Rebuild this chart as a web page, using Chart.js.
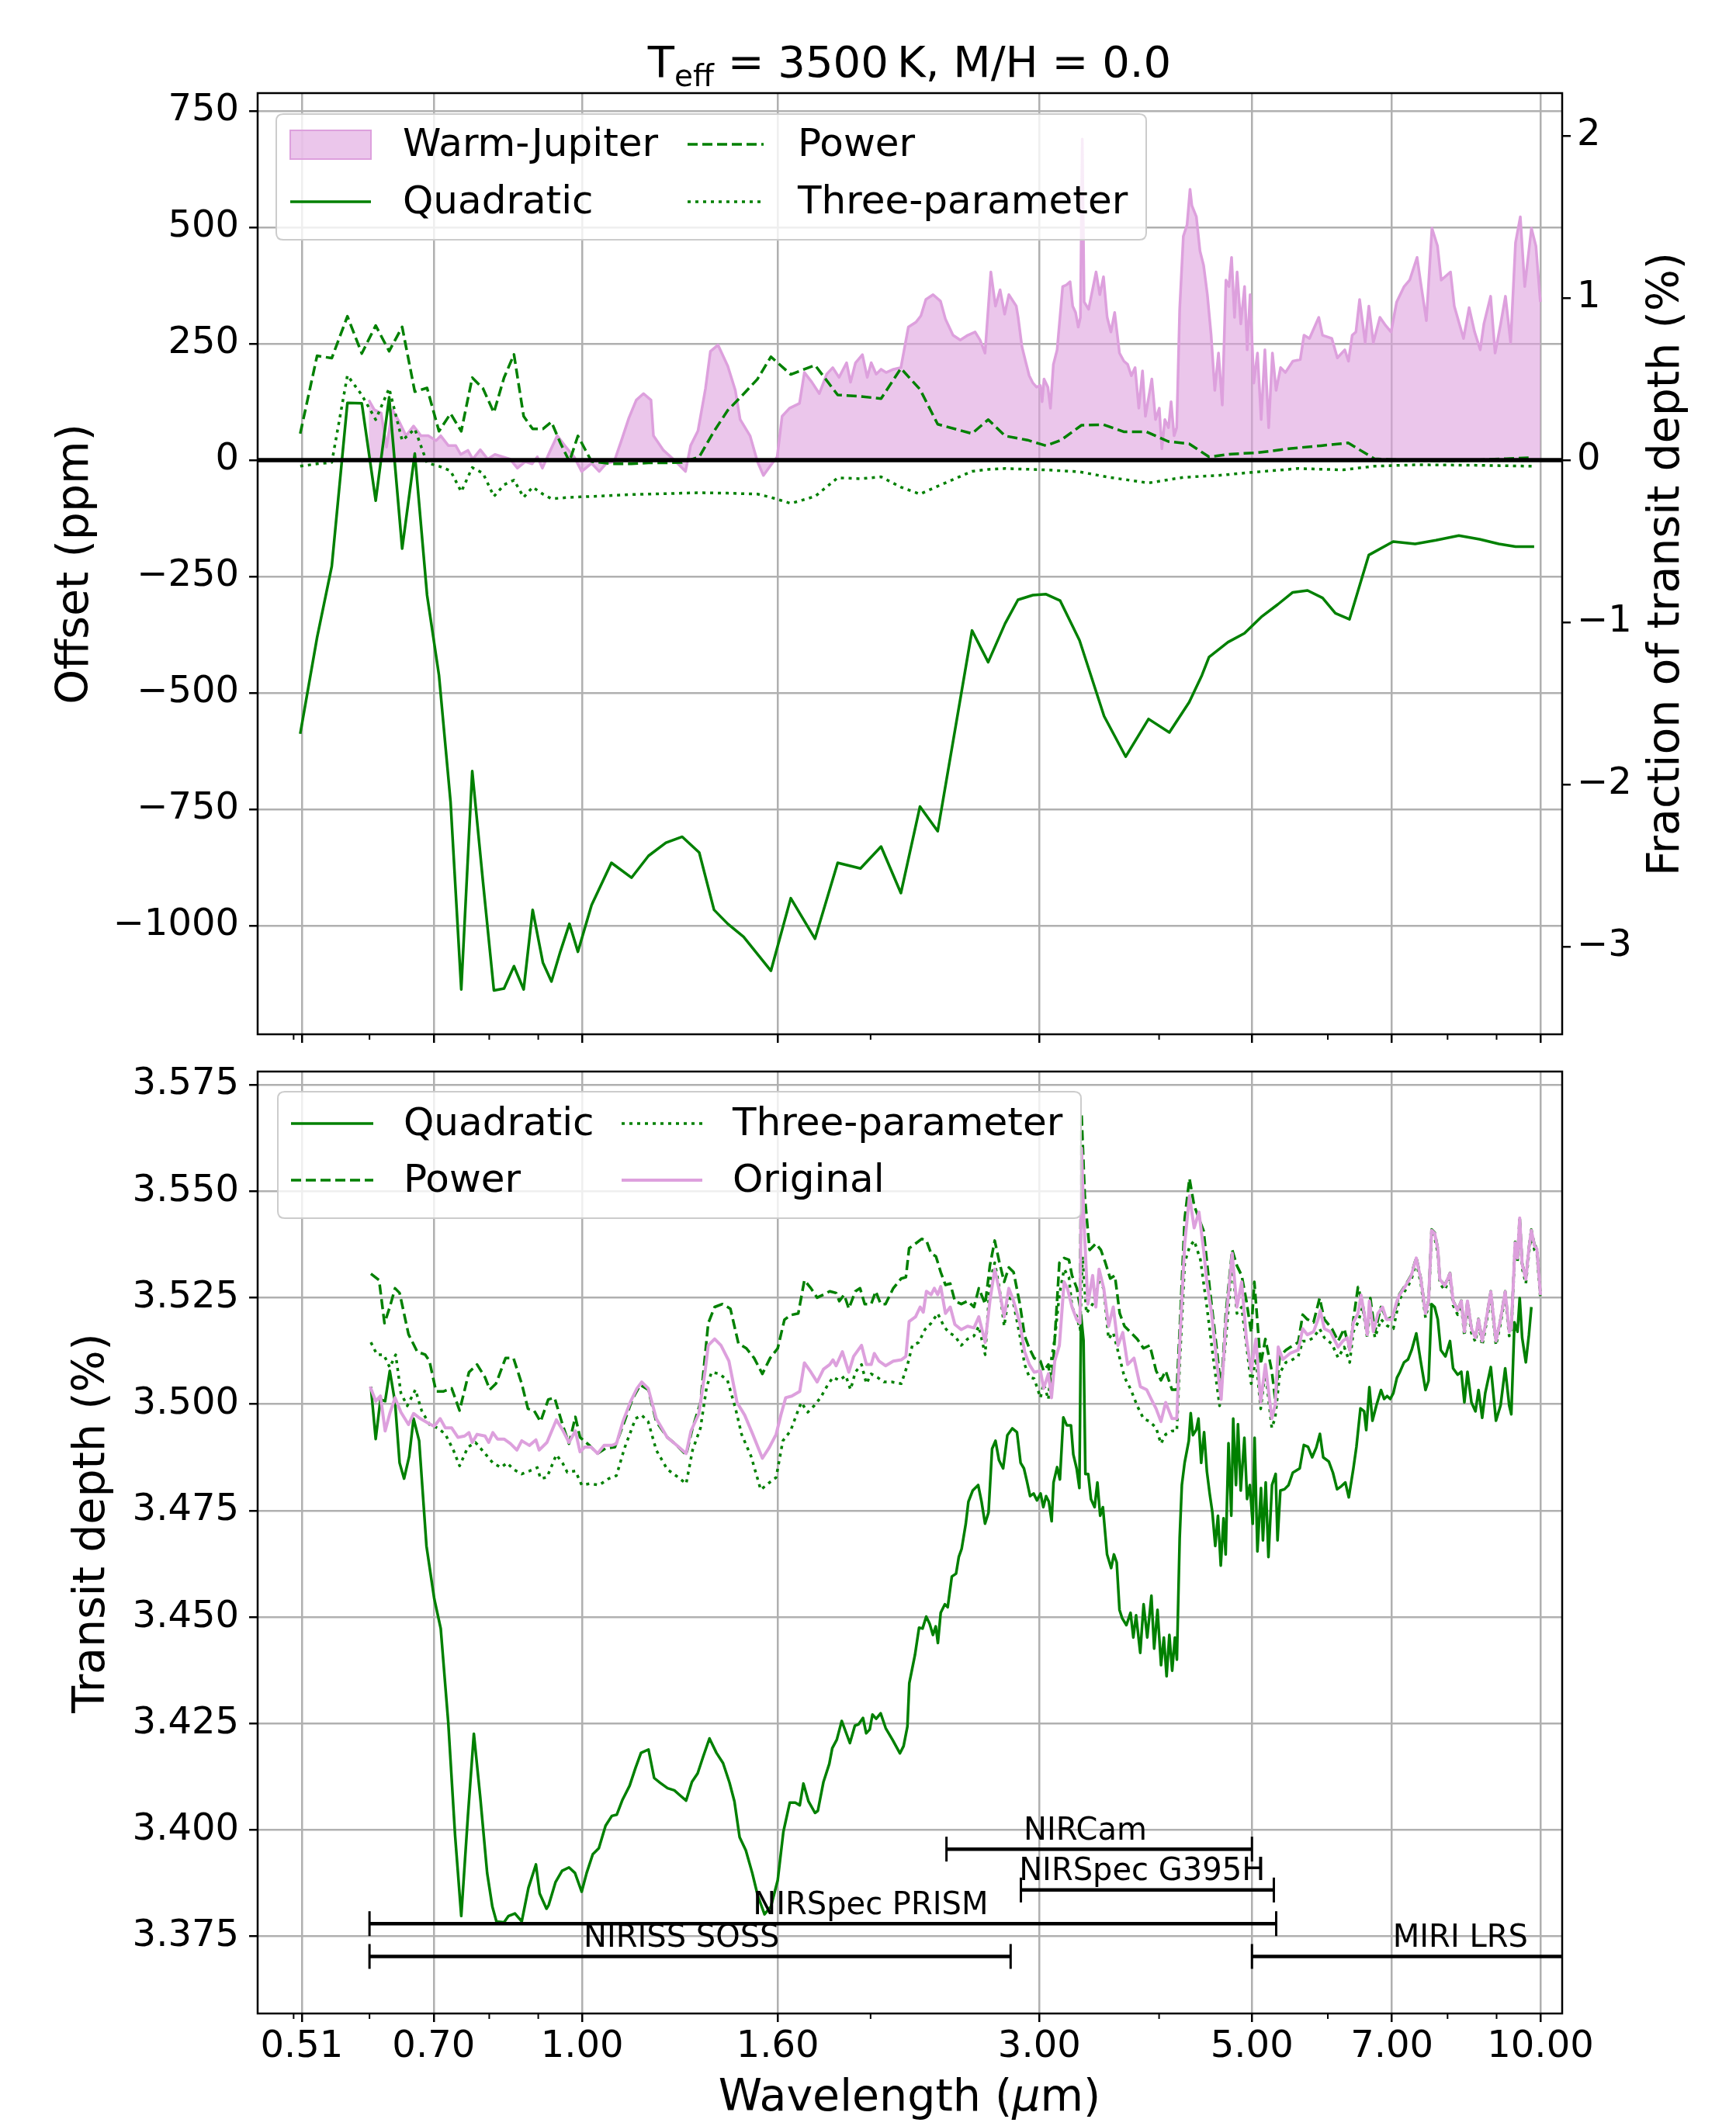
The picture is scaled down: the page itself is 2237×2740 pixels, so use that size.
<!DOCTYPE html>
<html>
<head>
<meta charset="utf-8">
<script src="https://cdn.jsdelivr.net/npm/chart.js@4.4.0/dist/chart.umd.min.js"></script>
<style>
  html, body { margin: 0; padding: 0; background: #fff; overflow: hidden; }
  #wrap { position: relative; width: 2237px; height: 2740px; }
  #topBox { position: absolute; left: 0; top: 0; width: 2237px; height: 1400px; }
  #botBox { position: absolute; left: 0; top: 1330px; width: 2237px; height: 1410px; }
</style>
</head>
<body>
<div id="wrap">
  <div id="topBox"><canvas id="topChart" width="2237" height="1400"></canvas></div>
  <div id="botBox"><canvas id="bottomChart" width="2237" height="1410"></canvas></div>
</div>
<script>
// axis ticks
const xTickValues = [0.51, 0.7, 1.0, 1.6, 3.0, 5.0, 7.0, 10.0];
const xTickLabels = ['0.51', '0.70', '1.00', '1.60', '3.00', '5.00', '7.00', '10.00'];
const xMinorTicks = [0.5, 0.6, 0.8, 0.9, 2, 4, 6, 8, 9];
const offsetTicks = [-1000, -750, -500, -250, 0, 250, 500, 750];
const fractionTicks = [-3, -2, -1, 0, 1, 2];
const depthTicks = [3.375, 3.4, 3.425, 3.45, 3.475, 3.5, 3.525, 3.55, 3.575];

// top panel: binned offsets (ppm)
const quadWave = [0.508,0.529,0.548,0.569,0.589,0.609,0.629,0.649,0.669,0.689,0.709,0.729,0.748,0.768,0.788,0.809,0.829,0.849,0.869,0.888,0.910,0.929,0.949,0.970,0.990,1.023,1.073,1.126,1.173,1.223,1.272,1.325,1.373,1.419,1.474,1.524,1.574,1.651,1.750,1.848,1.952,2.051,2.151,2.252,2.350,2.552,2.653,2.763,2.85,2.954,3.049,3.154,3.304,3.505,3.692,3.90,4.10,4.30,4.434,4.51,4.72,4.91,5.113,5.32,5.515,5.715,5.925,6.11,6.32,6.62,7.02,7.40,7.78,8.22,8.64,9.05,9.42,9.85];
const quadOffset = [-588,-381,-228,123,122,-87,135,-190,14,-290,-462,-734,-1137,-668,-905,-1139,-1135,-1087,-1137,-966,-1079,-1120,-1056,-996,-1056,-956,-865,-897,-850,-822,-809,-843,-966,-996,-1024,-1061,-1097,-941,-1028,-865,-877,-830,-930,-744,-797,-366,-434,-351,-300,-290,-288,-302,-387,-550,-637,-556,-585,-520,-462,-423,-391,-372,-337,-310,-284,-280,-296,-329,-342,-204,-175,-180,-172,-162,-170,-180,-186,-186];

const powerWave = [0.508,0.529,0.548,0.569,0.589,0.609,0.629,0.649,0.669,0.689,0.709,0.729,0.748,0.768,0.788,0.809,0.829,0.849,0.869,0.888,0.910,0.929,0.949,0.970,0.990,1.023,1.073,1.126,1.173,1.223,1.272,1.325,1.373,1.419,1.474,1.524,1.574,1.651,1.750,1.848,1.952,2.051,2.151,2.252,2.350,2.552,2.653,2.763,2.916,3.049,3.16,3.32,3.50,3.674,3.88,4.09,4.30,4.51,4.76,5.07,5.49,5.90,6.30,6.71,7.02,7.57,8.13,8.73,9.21,9.72];
const powerOffset = [57,224,219,309,229,289,234,286,147,155,62,100,62,177,154,102,177,227,94,67,67,82,37,-3,52,-3,-8,-8,-6,-6,-5,7,62,107,142,174,222,184,204,140,137,132,197,152,77,57,87,52,43,31,43,75,76,61,61,40,35,7,13,16,25,31,37,3,1,-1,-2,1,3,5];

const threeWave = [0.508,0.529,0.548,0.569,0.589,0.609,0.629,0.649,0.669,0.689,0.709,0.729,0.748,0.768,0.788,0.809,0.829,0.849,0.869,0.888,0.910,0.929,0.970,1.023,1.126,1.223,1.325,1.419,1.524,1.574,1.651,1.750,1.848,1.952,2.051,2.151,2.252,2.350,2.552,2.653,2.763,3.049,3.30,3.55,3.90,4.24,4.60,5.02,5.59,6.22,6.71,7.43,8.50,9.80];
const threeOffset = [-13,-8,-5,182,140,87,154,42,67,-6,-13,-23,-68,-16,-28,-78,-53,-43,-80,-58,-73,-83,-80,-78,-74,-72,-70,-71,-73,-80,-93,-78,-38,-40,-36,-58,-73,-56,-24,-20,-18,-21,-25,-37,-49,-37,-33,-26,-18,-21,-13,-10,-11,-13];

// top panel: Warm-Jupiter fraction of transit depth (%)
const wjWave = [0.599,0.607,0.617,0.625,0.634,0.644,0.655,0.667,0.679,0.691,0.704,0.712,0.725,0.738,0.747,0.760,0.769,0.783,0.797,0.811,0.826,0.841,0.856,0.872,0.887,0.898,0.909,0.925,0.942,0.959,0.981,0.999,1.023,1.042,1.060,1.080,1.099,1.119,1.139,1.159,1.180,1.187,1.216,1.245,1.282,1.298,1.321,1.345,1.361,1.386,1.419,1.445,1.462,1.497,1.524,1.546,1.570,1.598,1.617,1.646,1.686,1.706,1.737,1.768,1.800,1.826,1.854,1.888,1.906,1.929,1.961,1.984,2.003,2.027,2.051,2.076,2.113,2.151,2.190,2.230,2.257,2.284,2.324,2.366,2.394,2.438,2.481,2.526,2.571,2.602,2.633,2.67,2.70,2.73,2.76,2.788,2.838,2.851,2.877,2.902,2.928,2.954,2.980,3.007,3.020,3.034,3.062,3.081,3.103,3.131,3.173,3.201,3.230,3.250,3.273,3.294,3.311,3.326,3.341,3.377,3.438,3.469,3.500,3.531,3.563,3.595,3.637,3.676,3.709,3.742,3.776,3.810,3.844,3.871,3.931,3.966,4.002,4.027,4.056,4.092,4.117,4.147,4.173,4.203,4.240,4.278,4.309,4.328,4.375,4.413,4.452,4.492,4.533,4.573,4.614,4.656,4.697,4.731,4.761,4.795,4.825,4.868,4.912,4.943,4.978,5.022,5.067,5.112,5.158,5.205,5.252,5.299,5.356,5.418,5.516,5.616,5.666,5.741,5.871,5.924,6.058,6.139,6.249,6.305,6.362,6.419,6.476,6.563,6.622,6.693,6.80,6.893,6.985,7.079,7.207,7.304,7.435,7.502,7.603,7.705,7.809,7.879,8.057,8.130,8.313,8.425,8.537,8.653,8.730,8.872,8.968,9.089,9.194,9.309,9.419,9.528,9.630,9.786,9.892,9.998];
const wjFraction = [0.37,0.31,0.29,0.08,0.31,0.24,0.15,0.21,0.15,0.15,0.12,0.15,0.09,0.09,0.035,0.06,0.006,0.064,0.006,0.035,0.02,0.006,-0.05,-0.01,-0.023,0.02,-0.05,0.05,0.15,0.09,0.02,-0.07,-0.02,-0.07,-0.02,-0.01,0.12,0.26,0.37,0.41,0.37,0.15,0.06,0.006,-0.07,0.09,0.18,0.44,0.67,0.71,0.58,0.43,0.25,0.15,-0.01,-0.095,-0.04,0.02,0.27,0.32,0.35,0.54,0.48,0.41,0.53,0.57,0.51,0.60,0.48,0.60,0.65,0.51,0.60,0.53,0.56,0.54,0.56,0.57,0.82,0.85,0.89,0.99,1.02,0.98,0.87,0.77,0.74,0.77,0.79,0.74,0.66,1.16,0.95,1.05,0.90,1.02,0.95,0.88,0.70,0.61,0.52,0.475,0.45,0.46,0.36,0.50,0.45,0.32,0.59,0.68,1.07,1.08,1.10,0.95,0.91,0.82,0.88,1.98,0.975,0.93,1.16,1.02,1.13,0.88,0.79,0.91,0.66,0.61,0.59,0.52,0.57,0.32,0.55,0.27,0.50,0.25,0.32,0.07,0.25,0.20,0.36,0.15,0.20,0.93,1.38,1.45,1.67,1.57,1.50,1.29,1.20,1.02,0.77,0.43,0.66,0.34,1.11,1.07,1.25,0.88,1.16,0.84,1.07,0.68,1.02,0.475,0.66,0.25,0.68,0.20,0.66,0.43,0.57,0.54,0.61,0.62,0.77,0.75,0.88,0.77,0.75,0.63,0.68,0.61,0.77,0.79,0.99,0.725,0.95,0.725,0.88,0.83,0.79,0.975,1.07,1.11,1.25,1.09,0.86,1.43,1.32,1.11,1.16,0.95,0.75,0.94,0.79,0.68,0.84,1.01,0.66,0.84,1.01,0.725,1.34,1.50,1.07,1.43,1.32,0.975];

// bottom panel: transit depth (%)
const origWave = [0.601,0.609,0.616,0.623,0.630,0.638,0.647,0.659,0.667,0.678,0.691,0.701,0.711,0.720,0.731,0.742,0.754,0.762,0.768,0.777,0.792,0.799,0.807,0.816,0.829,0.842,0.855,0.865,0.881,0.895,0.902,0.919,0.940,0.954,0.969,0.984,0.995,1.006,1.022,1.038,1.054,1.074,1.086,1.103,1.124,1.141,1.154,1.172,1.195,1.227,1.250,1.284,1.299,1.324,1.344,1.354,1.375,1.396,1.423,1.451,1.478,1.507,1.542,1.566,1.594,1.612,1.631,1.655,1.687,1.706,1.733,1.759,1.786,1.813,1.827,1.841,1.869,1.898,1.920,1.957,1.980,2.003,2.018,2.041,2.073,2.112,2.153,2.177,2.194,2.228,2.253,2.270,2.287,2.313,2.331,2.350,2.367,2.394,2.422,2.449,2.487,2.525,2.564,2.594,2.634,2.664,2.695,2.726,2.757,2.788,2.820,2.863,2.896,2.929,2.963,3.008,3.031,3.066,3.089,3.113,3.148,3.184,3.209,3.245,3.283,3.308,3.320,3.338,3.371,3.410,3.436,3.463,3.502,3.543,3.583,3.624,3.666,3.709,3.766,3.824,3.882,3.927,3.972,4.018,4.064,4.126,4.174,4.206,4.254,4.303,4.352,4.402,4.452,4.487,4.538,4.590,4.643,4.696,4.768,4.823,4.878,4.934,4.991,5.048,5.106,5.164,5.244,5.287,5.326,5.385,5.486,5.588,5.649,5.712,5.797,5.861,5.892,5.950,6.038,6.150,6.219,6.288,6.324,6.380,6.451,6.499,6.547,6.596,6.630,6.694,6.768,6.843,6.908,6.997,7.084,7.126,7.232,7.328,7.421,7.503,7.587,7.643,7.699,7.756,7.814,7.853,7.946,8.047,8.107,8.197,8.269,8.330,8.392,8.473,8.555,8.618,8.694,8.758,8.876,8.987,9.087,9.188,9.277,9.324,9.410,9.464,9.514,9.570,9.655,9.727,9.784,9.857,9.915,10.00];
const origDepth = [3.5041,3.5007,3.5019,3.4937,3.4978,3.5015,3.4981,3.4952,3.4978,3.4966,3.4955,3.4948,3.4966,3.4944,3.4944,3.4922,3.4925,3.4933,3.4910,3.4929,3.4925,3.4910,3.4933,3.4918,3.4918,3.4907,3.4892,3.4914,3.4903,3.4916,3.4892,3.4910,3.4963,3.4940,3.4910,3.4937,3.4888,3.4899,3.4899,3.4884,3.4903,3.4903,3.4907,3.4959,3.5007,3.5037,3.5052,3.5037,3.4966,3.4922,3.4907,3.4884,3.4937,3.4978,3.5078,3.5138,3.5153,3.5138,3.5101,3.5004,3.4974,3.4929,3.4873,3.4896,3.4929,3.4974,3.5015,3.5019,3.5030,3.5097,3.5075,3.5052,3.5082,3.5093,3.5104,3.5090,3.5123,3.5075,3.5112,3.5138,3.5093,3.5093,3.5119,3.5101,3.5090,3.5101,3.5104,3.5112,3.5194,3.5205,3.5228,3.5216,3.5265,3.5257,3.5272,3.5257,3.5276,3.5213,3.5228,3.5187,3.5175,3.5183,3.5179,3.5205,3.5145,3.5242,3.5317,3.5265,3.5205,3.5272,3.5242,3.5190,3.5123,3.5093,3.5075,3.5078,3.5037,3.5071,3.5015,3.5101,3.5138,3.5287,3.5272,3.5228,3.5198,3.5190,3.5601,3.5436,3.5235,3.5302,3.5228,3.5317,3.5272,3.5183,3.5228,3.5138,3.5168,3.5093,3.5108,3.5041,3.5034,3.5011,3.4989,3.4959,3.5004,3.4966,3.4966,3.5153,3.5377,3.5489,3.5414,3.5451,3.5362,3.5287,3.5213,3.5108,3.5011,3.5190,3.5354,3.5228,3.5287,3.5153,3.5078,3.5153,3.5004,3.5093,3.4966,3.4997,3.5134,3.5105,3.5120,3.5127,3.5177,3.5163,3.5170,3.5199,3.5220,3.5177,3.5170,3.5134,3.5148,3.5156,3.5127,3.5192,3.5213,3.5256,3.5213,3.5163,3.5242,3.5170,3.5213,3.5228,3.5199,3.5199,3.5242,3.5256,3.5278,3.5300,3.5343,3.5293,3.5213,3.5242,3.5408,3.5401,3.5365,3.5293,3.5278,3.5307,3.5242,3.5220,3.5242,3.5170,3.5242,3.5177,3.5156,3.5199,3.5148,3.5184,3.5264,3.5148,3.5199,3.5264,3.5170,3.5177,3.5379,3.5343,3.5437,3.5329,3.5293,3.5365,3.5408,3.5372,3.5365,3.5256];

const powerDepthWave = [0.602,0.614,0.622,0.630,0.638,0.645,0.659,0.673,0.686,0.693,0.704,0.717,0.731,0.745,0.762,0.777,0.792,0.801,0.813,0.832,0.848,0.865,0.878,0.891,0.905,0.922,0.936,0.954,0.969,0.984,0.995,1.018,1.038,1.058,1.082,1.107,1.128,1.150,1.172,1.195,1.227,1.250,1.284,1.304,1.329,1.354,1.375,1.401,1.428,1.456,1.484,1.512,1.542,1.571,1.600,1.626,1.650,1.681,1.706,1.733,1.759,1.786,1.813,1.841,1.855,1.877,1.898,1.928,1.950,1.972,2.003,2.025,2.049,2.073,2.112,2.153,2.177,2.194,2.228,2.262,2.287,2.313,2.340,2.367,2.394,2.422,2.449,2.487,2.525,2.564,2.594,2.634,2.664,2.695,2.726,2.757,2.788,2.820,2.863,2.896,2.929,2.963,3.008,3.031,3.066,3.089,3.113,3.148,3.184,3.221,3.245,3.283,3.308,3.320,3.346,3.385,3.436,3.478,3.516,3.557,3.597,3.639,3.681,3.738,3.795,3.853,3.912,3.972,4.018,4.064,4.126,4.174,4.206,4.254,4.303,4.352,4.402,4.452,4.521,4.590,4.643,4.696,4.768,4.823,4.878,4.934,4.991,5.029,5.106,5.164,5.244,5.287,5.346,5.425,5.486,5.588,5.649,5.712,5.797,5.883,5.950,6.060,6.150,6.241,6.324,6.380,6.451,6.523,6.596,6.645,6.719,6.818,6.919,7.023,7.126,7.232,7.328,7.421,7.503,7.587,7.643,7.699,7.756,7.814,7.853,7.946,8.047,8.107,8.197,8.269,8.330,8.392,8.473,8.555,8.618,8.694,8.758,8.876,8.987,9.087,9.188,9.277,9.324,9.410,9.464,9.514,9.570,9.655,9.727,9.784,9.857,9.915,10.00];
const powerDepth = [3.5306,3.5291,3.5190,3.5228,3.5272,3.5261,3.5164,3.5123,3.5116,3.5101,3.5030,3.5030,3.5037,3.4985,3.5075,3.5093,3.5063,3.5034,3.5048,3.5108,3.5108,3.5048,3.4989,3.4985,3.4959,3.5011,3.5015,3.4952,3.4907,3.4970,3.4922,3.4903,3.4884,3.4896,3.4899,3.4959,3.5011,3.5045,3.5034,3.4959,3.4922,3.4907,3.4881,3.4944,3.5004,3.5190,3.5228,3.5235,3.5224,3.5142,3.5131,3.5108,3.5071,3.5108,3.5131,3.5198,3.5209,3.5213,3.5291,3.5272,3.5250,3.5257,3.5265,3.5261,3.5242,3.5257,3.5224,3.5265,3.5272,3.5235,3.5235,3.5265,3.5235,3.5235,3.5272,3.5295,3.5298,3.5366,3.5377,3.5388,3.5384,3.5354,3.5347,3.5310,3.5280,3.5283,3.5242,3.5235,3.5242,3.5228,3.5272,3.5235,3.5325,3.5384,3.5332,3.5287,3.5321,3.5310,3.5235,3.5160,3.5131,3.5108,3.5101,3.5078,3.5093,3.5034,3.5153,3.5332,3.5343,3.5339,3.5302,3.5272,3.5228,3.5683,3.5489,3.5362,3.5377,3.5362,3.5332,3.5295,3.5302,3.5213,3.5183,3.5168,3.5153,3.5131,3.5138,3.5078,3.5056,3.5078,3.5034,3.5034,3.5190,3.5436,3.5530,3.5466,3.5436,3.5407,3.5265,3.5138,3.5034,3.5213,3.5362,3.5325,3.5302,3.5242,3.5168,3.5287,3.5093,3.5153,3.5078,3.5012,3.5112,3.5127,3.5134,3.5145,3.5210,3.5199,3.5192,3.5249,3.5199,3.5177,3.5148,3.5177,3.5127,3.5199,3.5275,3.5235,3.5170,3.5249,3.5170,3.5228,3.5199,3.5206,3.5258,3.5280,3.5302,3.5345,3.5295,3.5215,3.5244,3.5410,3.5403,3.5366,3.5294,3.5279,3.5308,3.5243,3.5221,3.5243,3.5171,3.5243,3.5178,3.5157,3.5200,3.5149,3.5185,3.5265,3.5149,3.5200,3.5265,3.5171,3.5178,3.5381,3.5345,3.5440,3.5331,3.5295,3.5367,3.5410,3.5374,3.5367,3.5257];

const threeDepthWave = [0.602,0.611,0.621,0.630,0.639,0.647,0.657,0.670,0.680,0.693,0.707,0.720,0.734,0.745,0.760,0.774,0.792,0.807,0.823,0.835,0.848,0.865,0.881,0.898,0.905,0.919,0.940,0.954,0.965,0.984,0.999,1.018,1.042,1.066,1.086,1.107,1.137,1.154,1.172,1.195,1.227,1.260,1.284,1.304,1.329,1.349,1.365,1.391,1.418,1.446,1.467,1.501,1.536,1.571,1.594,1.620,1.650,1.668,1.693,1.720,1.746,1.773,1.800,1.827,1.855,1.884,1.906,1.928,1.957,1.980,2.003,2.033,2.065,2.104,2.153,2.186,2.211,2.245,2.279,2.313,2.350,2.385,2.413,2.449,2.487,2.525,2.564,2.594,2.634,2.664,2.695,2.726,2.757,2.788,2.820,2.863,2.896,2.929,2.963,3.008,3.031,3.066,3.089,3.113,3.148,3.184,3.221,3.245,3.283,3.308,3.328,3.359,3.410,3.463,3.502,3.543,3.583,3.639,3.681,3.738,3.795,3.853,3.912,3.972,4.018,4.064,4.126,4.174,4.206,4.254,4.303,4.352,4.418,4.487,4.556,4.626,4.696,4.768,4.823,4.878,4.934,4.991,5.048,5.106,5.164,5.244,5.287,5.346,5.425,5.486,5.588,5.649,5.712,5.797,5.883,5.950,6.060,6.150,6.241,6.324,6.380,6.451,6.523,6.596,6.645,6.719,6.818,6.919,7.023,7.126,7.232,7.328,7.421,7.503,7.587,7.643,7.699,7.756,7.814,7.853,7.946,8.047,8.107,8.197,8.269,8.330,8.392,8.473,8.555,8.618,8.694,8.758,8.876,8.987,9.087,9.188,9.277,9.324,9.410,9.464,9.514,9.570,9.655,9.727,9.784,9.857,9.915,10.00];
const threeDepth = [3.5145,3.5116,3.5116,3.5086,3.5116,3.5026,3.4996,3.5034,3.4985,3.4952,3.4944,3.4929,3.4892,3.4855,3.4899,3.4910,3.4884,3.4862,3.4851,3.4862,3.4847,3.4836,3.4843,3.4851,3.4825,3.4828,3.4881,3.4862,3.4840,3.4843,3.4810,3.4813,3.4810,3.4825,3.4832,3.4896,3.4966,3.4974,3.4959,3.4892,3.4847,3.4828,3.4813,3.4892,3.4944,3.5041,3.5075,3.5071,3.5056,3.4989,3.4929,3.4877,3.4799,3.4817,3.4828,3.4914,3.4937,3.4966,3.5004,3.4981,3.4996,3.5015,3.5041,3.5063,3.5056,3.5067,3.5034,3.5075,3.5093,3.5048,3.5071,3.5063,3.5052,3.5052,3.5048,3.5093,3.5138,3.5145,3.5175,3.5190,3.5213,3.5183,3.5168,3.5160,3.5138,3.5153,3.5160,3.5183,3.5116,3.5287,3.5332,3.5272,3.5183,3.5257,3.5235,3.5160,3.5093,3.5063,3.5060,3.5015,3.5048,3.5011,3.5108,3.5153,3.5257,3.5317,3.5298,3.5228,3.5205,3.5175,3.5347,3.5213,3.5235,3.5287,3.5272,3.5153,3.5168,3.5108,3.5063,3.5034,3.4996,3.4966,3.4959,3.4944,3.4907,3.4929,3.4937,3.4937,3.5108,3.5332,3.5369,3.5384,3.5339,3.5228,3.5108,3.4996,3.5153,3.5332,3.5213,3.5228,3.5138,3.5048,3.5108,3.4989,3.5078,3.4944,3.4968,3.5073,3.5098,3.5102,3.5112,3.5148,3.5148,3.5156,3.5177,3.5156,3.5141,3.5109,3.5134,3.5098,3.5170,3.5192,3.5228,3.5156,3.5228,3.5156,3.5199,3.5184,3.5177,3.5246,3.5268,3.5290,3.5333,3.5283,3.5203,3.5232,3.5398,3.5391,3.5355,3.5283,3.5268,3.5297,3.5232,3.5210,3.5232,3.5160,3.5232,3.5167,3.5146,3.5189,3.5138,3.5174,3.5254,3.5138,3.5189,3.5254,3.5160,3.5167,3.5369,3.5333,3.5427,3.5319,3.5283,3.5355,3.5398,3.5362,3.5355,3.5246];

const quadDepthWave = [0.602,0.609,0.616,0.623,0.630,0.638,0.645,0.652,0.660,0.667,0.676,0.688,0.701,0.712,0.725,0.737,0.748,0.760,0.771,0.783,0.796,0.806,0.814,0.829,0.838,0.851,0.865,0.879,0.895,0.903,0.918,0.923,0.938,0.953,0.969,0.983,0.999,1.011,1.026,1.041,1.058,1.074,1.087,1.102,1.121,1.137,1.152,1.173,1.189,1.206,1.228,1.248,1.267,1.284,1.302,1.320,1.338,1.358,1.381,1.403,1.425,1.442,1.460,1.482,1.505,1.525,1.550,1.574,1.600,1.622,1.647,1.669,1.687,1.702,1.723,1.750,1.762,1.786,1.811,1.824,1.844,1.866,1.903,1.926,1.943,1.964,1.979,1.996,2.009,2.027,2.049,2.074,2.108,2.146,2.165,2.185,2.195,2.225,2.247,2.266,2.286,2.305,2.323,2.339,2.351,2.367,2.391,2.407,2.431,2.456,2.472,2.489,2.514,2.530,2.556,2.590,2.611,2.633,2.655,2.678,2.700,2.723,2.750,2.778,2.811,2.843,2.868,2.891,2.911,2.934,2.959,2.983,3.009,3.029,3.049,3.069,3.090,3.104,3.131,3.152,3.178,3.205,3.237,3.255,3.281,3.303,3.316,3.336,3.351,3.374,3.396,3.426,3.449,3.472,3.495,3.530,3.565,3.589,3.613,3.637,3.661,3.698,3.735,3.760,3.785,3.823,3.854,3.888,3.927,3.953,3.985,4.019,4.046,4.073,4.100,4.128,4.155,4.175,4.203,4.225,4.253,4.296,4.316,4.339,4.374,4.397,4.426,4.457,4.487,4.517,4.547,4.578,4.608,4.639,4.670,4.694,4.726,4.758,4.780,4.812,4.835,4.867,4.910,4.942,4.975,5.009,5.032,5.066,5.110,5.134,5.168,5.202,5.247,5.293,5.317,5.353,5.406,5.460,5.515,5.608,5.664,5.721,5.778,5.836,5.887,5.934,6.014,6.074,6.135,6.196,6.258,6.310,6.380,6.427,6.489,6.547,6.580,6.630,6.679,6.743,6.818,6.869,6.919,6.971,7.023,7.084,7.136,7.205,7.275,7.339,7.421,7.503,7.587,7.643,7.699,7.756,7.814,7.871,7.959,8.047,8.107,8.197,8.269,8.330,8.392,8.473,8.555,8.618,8.694,8.758,8.876,8.987,9.087,9.188,9.277,9.324,9.395,9.464,9.514,9.570,9.655,9.727,9.784];
const quadDepth = [3.5041,3.4918,3.5011,3.5007,3.5078,3.5004,3.4862,3.4825,3.4877,3.4966,3.4914,3.4667,3.4543,3.4473,3.4252,3.3987,3.3798,3.4032,3.4226,3.4076,3.3899,3.3820,3.3785,3.3783,3.3798,3.3804,3.3785,3.3864,3.3919,3.3851,3.3815,3.3824,3.3877,3.3904,3.3912,3.3899,3.3855,3.3899,3.3943,3.3957,3.4010,3.4033,3.4036,3.4071,3.4104,3.4146,3.4181,3.4189,3.4122,3.4111,3.4098,3.4093,3.4080,3.4069,3.4113,3.4133,3.4173,3.4215,3.4181,3.4157,3.4111,3.4067,3.3983,3.3952,3.3899,3.3846,3.3802,3.3820,3.3882,3.3996,3.4064,3.4064,3.4058,3.4109,3.4067,3.4040,3.4045,3.4113,3.4155,3.4192,3.4212,3.4256,3.4204,3.4245,3.4248,3.4263,3.4227,3.4236,3.4271,3.4261,3.4274,3.4239,3.4212,3.4180,3.4197,3.4243,3.4345,3.4411,3.4475,3.4473,3.4501,3.4484,3.4458,3.4478,3.4439,3.4510,3.4530,3.4523,3.4595,3.4602,3.4641,3.4660,3.4719,3.4771,3.4797,3.4810,3.4771,3.4719,3.4745,3.4895,3.4914,3.4868,3.4849,3.4927,3.4943,3.4934,3.4862,3.4849,3.4820,3.4784,3.4790,3.4774,3.4790,3.4758,3.4784,3.4771,3.4725,3.4816,3.4852,3.4823,3.4969,3.4950,3.4950,3.4882,3.4849,3.4803,3.5210,3.5150,3.4836,3.4836,3.4777,3.4758,3.4816,3.4738,3.4758,3.4647,3.4615,3.4647,3.4628,3.4517,3.4497,3.4481,3.4510,3.4452,3.4504,3.4416,3.4530,3.4452,3.4550,3.4426,3.4517,3.4387,3.4452,3.4361,3.4458,3.4374,3.4452,3.4400,3.4686,3.4810,3.4862,3.4914,3.4979,3.4927,3.4940,3.4966,3.4862,3.4934,3.4842,3.4790,3.4745,3.4667,3.4738,3.4621,3.4732,3.4647,3.4908,3.4738,3.4966,3.4810,3.4953,3.4797,3.4921,3.4777,3.4810,3.4719,3.4921,3.4654,3.4803,3.4680,3.4816,3.4641,3.4810,3.4836,3.4680,3.4797,3.4800,3.4810,3.4839,3.4849,3.4904,3.4900,3.4875,3.4898,3.4930,3.4875,3.4865,3.4839,3.4800,3.4807,3.4816,3.4781,3.4849,3.4900,3.4990,3.4983,3.4939,3.5040,3.4961,3.4997,3.5033,3.5012,3.5019,3.5012,3.5026,3.5062,3.5076,3.5098,3.5105,3.5127,3.5166,3.5098,3.5033,3.5055,3.5235,3.5228,3.5199,3.5127,3.5112,3.5148,3.5084,3.5069,3.5076,3.5004,3.5076,3.5004,3.4983,3.5033,3.4968,3.5026,3.5087,3.4961,3.4997,3.5084,3.4997,3.4976,3.5192,3.5170,3.5249,3.5156,3.5098,3.5163,3.5228];

// JWST instrument coverage (µm) and the depth level of each bar
const instNames = ['NIRCam', 'NIRSpec G395H', 'NIRSpec PRISM', 'NIRISS SOSS', 'MIRI LRS'];
const instStart = [2.4, 2.87, 0.6, 0.6, 5.0];
const instEnd = [5.0, 5.27, 5.3, 2.8, 12.0];
const instLevel = [3.3955, 3.3859, 3.3780, 3.3703, 3.3703];
const instLabelWave = [3.35, 3.84, 2.0, 1.27, 8.25];

// axis ranges
const X_MIN = 0.4586, X_MAX = 10.536;
const OFF_MIN = -1233.3, OFF_MAX = 788.3;
const FRAC_MIN = -3.541, FRAC_MAX = 2.263;
const DEPTH_MIN = 3.3569, DEPTH_MAX = 3.5781;

const GREEN = '#008000';
const PLUM = '#dda0dd';
const GRID = '#b0b0b0';
const FONT = '"DejaVu Sans", sans-serif';
const DASH = [13, 6];
const DOT = [4, 6];

Chart.defaults.font.family = FONT;
Chart.defaults.color = '#000';

function pts(xs, ys) {
    return xs.map((x, i) => ({ x: x, y: ys[i] }));
}

function minusFmt(v) {
    return v < 0 ? '\u2212' + Math.abs(v) : String(v);
}

// no extra room for tick labels at the ends, the plot area is set by hand
function noPad(s) {
    s.paddingTop = 0; s.paddingBottom = 0; s.paddingLeft = 0; s.paddingRight = 0;
}

function xAxis(showLabels, height) {
    return {
        type: 'logarithmic', position: 'bottom', min: X_MIN, max: X_MAX,
        afterBuildTicks: s => { s.ticks = xTickValues.map(v => ({ value: v })); },
        afterFit: s => { s.height = height; noPad(s); },
        ticks: {
            autoSkip: false, maxRotation: 0, minRotation: 0, padding: 4,
            font: { size: 48 }, color: '#000',
            callback: (v, i) => showLabels ? xTickLabels[i] : ''
        },
        grid: { color: GRID, lineWidth: 2.5, tickLength: 11, tickColor: '#000', tickWidth: 2.5 },
        border: { display: false }
    };
}

function yAxis(pos, min, max, ticks, fmt, width, drawGrid) {
    return {
        type: 'linear', position: pos, min: min, max: max,
        afterBuildTicks: s => { s.ticks = ticks.map(v => ({ value: v })); },
        afterFit: s => { s.width = width; noPad(s); },
        ticks: { font: { size: 48 }, color: '#000', padding: pos === 'left' ? 13 : 8, callback: fmt },
        grid: { display: true, drawOnChartArea: drawGrid, color: GRID, lineWidth: 2.5, tickLength: 11, tickColor: '#000', tickWidth: 2.5 },
        border: { display: false }
    };
}

function roundBox(ctx, x, y, w, h, r) {
    ctx.beginPath();
    ctx.moveTo(x + r, y);
    ctx.lineTo(x + w - r, y);
    ctx.quadraticCurveTo(x + w, y, x + w, y + r);
    ctx.lineTo(x + w, y + h - r);
    ctx.quadraticCurveTo(x + w, y + h, x + w - r, y + h);
    ctx.lineTo(x + r, y + h);
    ctx.quadraticCurveTo(x, y + h, x, y + h - r);
    ctx.lineTo(x, y + r);
    ctx.quadraticCurveTo(x, y, x + r, y);
    ctx.closePath();
}

function drawLegend(ctx, box, items) {
    ctx.save();
    roundBox(ctx, box.x, box.y, box.w, box.h, 9);
    ctx.fillStyle = 'rgba(255,255,255,0.8)';
    ctx.fill();
    ctx.strokeStyle = '#cccccc';
    ctx.lineWidth = 2;
    ctx.stroke();
    ctx.font = '50px ' + FONT;
    ctx.textBaseline = 'middle';
    ctx.textAlign = 'left';
    items.forEach(it => {
        if (it.kind === 'patch') {
            ctx.fillStyle = 'rgba(221,160,221,0.6)';
            ctx.fillRect(it.x0, it.y - 18, it.x1 - it.x0, 37);
            ctx.strokeStyle = PLUM;
            ctx.lineWidth = 2;
            ctx.strokeRect(it.x0, it.y - 18, it.x1 - it.x0, 37);
        } else {
            ctx.beginPath();
            ctx.setLineDash(it.dash || []);
            ctx.strokeStyle = it.color;
            ctx.lineWidth = it.width;
            ctx.moveTo(it.x0, it.y);
            ctx.lineTo(it.x1, it.y);
            ctx.stroke();
            ctx.setLineDash([]);
        }
        ctx.fillStyle = '#000';
        ctx.fillText(it.label, it.tx, it.y + 2);
    });
    ctx.restore();
}

function drawFrameAndMinor(chart) {
    const ctx = chart.ctx, a = chart.chartArea, xs = chart.scales.x;
    ctx.save();
    ctx.strokeStyle = '#000';
    ctx.lineWidth = 2;
    xMinorTicks.forEach(m => {
        const px = xs.getPixelForValue(m);
        ctx.beginPath();
        ctx.moveTo(px, a.bottom);
        ctx.lineTo(px, a.bottom + 7);
        ctx.stroke();
    });
    ctx.lineWidth = 2.5;
    ctx.strokeRect(a.left, a.top, a.right - a.left, a.bottom - a.top);
    ctx.restore();
}

function rotatedLabel(ctx, text, x, y) {
    ctx.save();
    ctx.translate(x, y);
    ctx.rotate(-Math.PI / 2);
    ctx.font = '57px ' + FONT;
    ctx.fillStyle = '#000';
    ctx.textAlign = 'center';
    ctx.textBaseline = 'middle';
    ctx.fillText(text, 0, 0);
    ctx.restore();
}

const topDecor = {
    id: 'topDecor',
    afterDraw(chart) {
        const ctx = chart.ctx;
        drawFrameAndMinor(chart);

        // title with subscript
        ctx.save();
        ctx.fillStyle = '#000';
        ctx.textBaseline = 'alphabetic';
        const big = '56px ' + FONT, small = '39px ' + FONT;
        const rest = ' = 3500\u2009K, M/H = 0.0';
        ctx.font = big; const wT = ctx.measureText('T').width; const wR = ctx.measureText(rest).width;
        ctx.font = small; const wS = ctx.measureText('eff').width;
        let x = 1172 - (wT + wS + wR) / 2;
        ctx.font = big; ctx.fillText('T', x, 99); x += wT;
        ctx.font = small; ctx.fillText('eff', x, 111); x += wS;
        ctx.font = big; ctx.fillText(rest, x, 99);
        ctx.restore();

        rotatedLabel(ctx, 'Offset (ppm)', 98, 727);
        rotatedLabel(ctx, 'Fraction of transit depth (%)', 2148, 727);

        drawLegend(ctx, { x: 356, y: 147, w: 1121, h: 162 }, [
            { kind: 'patch', x0: 374, x1: 478, y: 186, tx: 519, label: 'Warm-Jupiter' },
            { kind: 'line', x0: 374, x1: 478, y: 260, tx: 519, label: 'Quadratic', color: GREEN, width: 3.5 },
            { kind: 'line', x0: 886, x1: 984, y: 186, tx: 1028, label: 'Power', color: GREEN, width: 3.5, dash: DASH },
            { kind: 'line', x0: 886, x1: 984, y: 260, tx: 1028, label: 'Three-parameter', color: GREEN, width: 3.5, dash: DOT }
        ]);
    }
};

// bottom canvas starts 1330 px down the page
const bottomDecor = {
    id: 'bottomDecor',
    afterDatasetsDraw(chart) {
        const ctx = chart.ctx, xs = chart.scales.x, ys = chart.scales.y;
        ctx.save();
        ctx.font = '40px ' + FONT;
        ctx.fillStyle = '#000';
        ctx.textAlign = 'center';
        ctx.textBaseline = 'bottom';
        instNames.forEach((n, i) => {
            ctx.fillText(n, xs.getPixelForValue(instLabelWave[i]), ys.getPixelForValue(instLevel[i]) - 3);
        });
        ctx.restore();
    },
    afterDraw(chart) {
        const ctx = chart.ctx;
        drawFrameAndMinor(chart);
        rotatedLabel(ctx, 'Transit depth (%)', 119, 633);

        // x label with italic mu
        ctx.save();
        ctx.fillStyle = '#000';
        ctx.textBaseline = 'middle';
        const p1 = 'Wavelength (', p2 = '\u03bc', p3 = 'm)';
        ctx.font = '57px ' + FONT; const w1 = ctx.measureText(p1).width; const w3 = ctx.measureText(p3).width;
        ctx.font = 'italic 57px ' + FONT; const w2 = ctx.measureText(p2).width;
        let x = 1172 - (w1 + w2 + w3) / 2;
        const y = 1375;
        ctx.font = '57px ' + FONT; ctx.fillText(p1, x, y); x += w1;
        ctx.font = 'italic 57px ' + FONT; ctx.fillText(p2, x, y); x += w2;
        ctx.font = '57px ' + FONT; ctx.fillText(p3, x, y);
        ctx.restore();

        drawLegend(ctx, { x: 358, y: 77, w: 1035, h: 163 }, [
            { kind: 'line', x0: 375, x1: 481, y: 118, tx: 520, label: 'Quadratic', color: GREEN, width: 3.5 },
            { kind: 'line', x0: 375, x1: 481, y: 191, tx: 520, label: 'Power', color: GREEN, width: 3.5, dash: DASH },
            { kind: 'line', x0: 801, x1: 905, y: 118, tx: 944, label: 'Three-parameter', color: GREEN, width: 3.5, dash: DOT },
            { kind: 'line', x0: 801, x1: 905, y: 191, tx: 944, label: 'Original', color: PLUM, width: 4 }
        ]);
    }
};

const lineBase = { pointRadius: 0, tension: 0, borderCapStyle: 'butt', borderJoinStyle: 'round' };

new Chart(document.getElementById('topChart'), {
    type: 'line',
    data: {
        datasets: [
            Object.assign({}, lineBase, { label: 'zero', data: [{ x: X_MIN, y: 0 }, { x: X_MAX, y: 0 }], borderColor: '#000', borderWidth: 5.5, yAxisID: 'y', order: 0 }),
            Object.assign({}, lineBase, { label: 'Quadratic', data: pts(quadWave, quadOffset), borderColor: GREEN, borderWidth: 3.5, yAxisID: 'y', order: 1 }),
            Object.assign({}, lineBase, { label: 'Power', data: pts(powerWave, powerOffset), borderColor: GREEN, borderWidth: 3.5, borderDash: DASH, yAxisID: 'y', order: 2 }),
            Object.assign({}, lineBase, { label: 'Three-parameter', data: pts(threeWave, threeOffset), borderColor: GREEN, borderWidth: 3.5, borderDash: DOT, yAxisID: 'y', order: 3 }),
            Object.assign({}, lineBase, { label: 'Warm-Jupiter', data: pts(wjWave, wjFraction), borderColor: PLUM, borderWidth: 3.5, backgroundColor: 'rgba(221,160,221,0.6)', fill: { value: 0 }, yAxisID: 'y2', order: 4 })
        ]
    },
    options: {
        responsive: false, animation: false, events: [],
        layout: { padding: { top: 120, left: 0, right: 0, bottom: 0 } },
        plugins: { legend: { display: false }, tooltip: { enabled: false }, title: { display: false } },
        scales: {
            x: xAxis(false, 67),
            y: yAxis('left', OFF_MIN, OFF_MAX, offsetTicks, v => minusFmt(v), 332, true),
            y2: yAxis('right', FRAC_MIN, FRAC_MAX, fractionTicks, v => minusFmt(v), 224, false)
        }
    },
    plugins: [topDecor]
});

const barSets = instNames.map((n, i) => Object.assign({}, lineBase, {
    label: n,
    data: [{ x: instStart[i], y: instLevel[i] }, { x: instEnd[i], y: instLevel[i] }],
    borderColor: '#000', borderWidth: 4.5,
    pointRadius: 16, pointStyle: 'line', pointRotation: 90,
    pointBorderColor: '#000', pointBorderWidth: 3, order: 0
}));

new Chart(document.getElementById('bottomChart'), {
    type: 'line',
    data: {
        datasets: [
            Object.assign({}, lineBase, { label: 'Quadratic', data: pts(quadDepthWave, quadDepth), borderColor: GREEN, borderWidth: 3.5, order: 3 }),
            Object.assign({}, lineBase, { label: 'Power', data: pts(powerDepthWave, powerDepth), borderColor: GREEN, borderWidth: 3.5, borderDash: DASH, order: 2 }),
            Object.assign({}, lineBase, { label: 'Three-parameter', data: pts(threeDepthWave, threeDepth), borderColor: GREEN, borderWidth: 3.5, borderDash: DOT, order: 2 }),
            Object.assign({}, lineBase, { label: 'Original', data: pts(origWave, origDepth), borderColor: PLUM, borderWidth: 4, order: 1 })
        ].concat(barSets)
    },
    options: {
        responsive: false, animation: false, events: [],
        layout: { padding: { top: 51, left: 0, right: 224, bottom: 0 } },
        plugins: { legend: { display: false }, tooltip: { enabled: false }, title: { display: false } },
        scales: {
            x: xAxis(true, 145),
            y: yAxis('left', DEPTH_MIN, DEPTH_MAX, depthTicks, v => v.toFixed(3), 332, true)
        }
    },
    plugins: [bottomDecor]
});
</script>
</body>
</html>
